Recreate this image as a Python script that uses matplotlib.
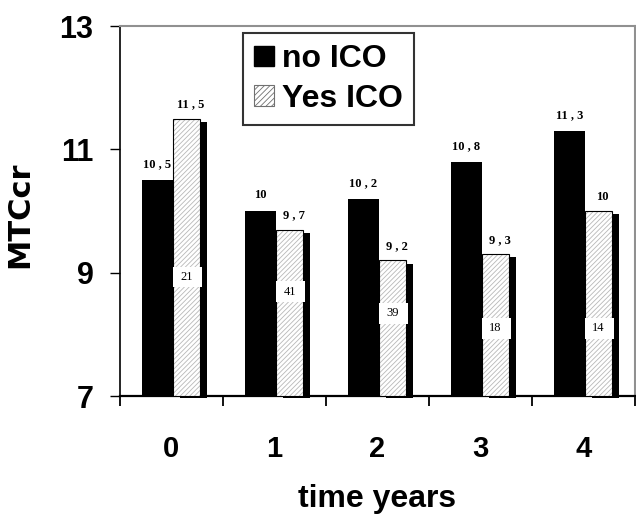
import matplotlib
matplotlib.use("Agg")
import matplotlib.pyplot as plt
from matplotlib.patches import Patch, Rectangle
import numpy as np

years = ["0", "1", "2", "3", "4"]
no_ico = [10.5, 10.0, 10.2, 10.8, 11.3]
yes_ico = [11.5, 9.7, 9.2, 9.3, 10.0]
no_ico_labels = ["10 , 5", "10", "10 , 2", "10 , 8", "11 , 3"]
yes_ico_labels = ["11 , 5", "9 , 7", "9 , 2", "9 , 3", "10"]
yes_counts = ["21", "41", "39", "18", "14"]
count_label_y = [8.93, 8.69, 8.34, 8.10, 8.10]

sans = ["Liberation Sans", "DejaVu Sans"]
serif = ["Liberation Serif", "DejaVu Serif"]

plt.rcParams["hatch.linewidth"] = 0.6

fig = plt.figure(figsize=(6.36, 5.17), dpi=100)
W, H = 636, 517
ax = fig.add_axes([120 / W, (H - 396) / H, 515 / W, 370 / H])

x = np.arange(len(years))
bw_black = 0.306
bw_hatch = 0.26
off_black = -0.289
off_hatch = 0.017
sh_dx = 0.065
sh_dy = 0.054
hatch_gray = "#b8b8b8"

# shadows behind hatched bars
ax.bar(x + off_hatch + sh_dx, np.array(yes_ico) - sh_dy - 6.97, bottom=6.97,
       width=bw_hatch, align="edge", color="black", linewidth=0, zorder=2, clip_on=False)
# black bars
ax.bar(x + off_black, np.array(no_ico) - 7, bottom=7, width=bw_black, align="edge",
       color="black", linewidth=0, zorder=3)
# hatched bars (gray hatch) + black outline
ax.bar(x + off_hatch, np.array(yes_ico) - 7, bottom=7, width=bw_hatch, align="edge",
       facecolor="white", edgecolor=hatch_gray, hatch="///////", linewidth=0, zorder=3)
ax.bar(x + off_hatch, np.array(yes_ico) - 7, bottom=7, width=bw_hatch, align="edge",
       fill=False, edgecolor="black", linewidth=0.8, zorder=4)

for i in range(len(years)):
    ax.annotate(no_ico_labels[i], (x[i] + off_black + bw_black / 2, no_ico[i]),
                xytext=(0, 7), textcoords="offset points", ha="center", va="bottom",
                fontsize=9, fontweight="bold", family=serif, zorder=5)
    ax.annotate(yes_ico_labels[i], (x[i] + off_hatch + bw_hatch / 2 + 0.04, yes_ico[i]),
                xytext=(0, 6), textcoords="offset points", ha="center", va="bottom",
                fontsize=9, fontweight="bold", family=serif, zorder=5)
    ax.add_patch(Rectangle((x[i] + off_hatch - 0.003, count_label_y[i] - 0.17), 0.283, 0.34,
                           facecolor="white", edgecolor="none", zorder=5))
    ax.text(x[i] + off_hatch + bw_hatch / 2, count_label_y[i], yes_counts[i],
            ha="center", va="center", fontsize=9, family=serif, zorder=6)

ax.set_xlim(-0.5, 4.5)
ax.set_ylim(7, 13)
ax.set_yticks([7, 9, 11, 13])
ax.set_yticklabels(["7", "9", "11", "13"])
ax.set_xticks(x)
ax.set_xticklabels(years)
ax.set_xticks(np.arange(-0.5, 5.0, 1.0), minor=True)
ax.tick_params(axis="x", which="major", length=0, pad=28)
ax.tick_params(axis="x", which="minor", length=7, width=1.3, direction="out")
ax.tick_params(axis="y", which="major", length=7, width=1.0, direction="out", pad=12)
for lab in ax.get_xticklabels():
    lab.set_fontsize(21)
    lab.set_fontweight("bold")
    lab.set_family(sans)
for lab in ax.get_yticklabels():
    lab.set_fontsize(22)
    lab.set_fontweight("bold")
    lab.set_family(sans)

ax.spines["left"].set_linewidth(1.2)
ax.spines["bottom"].set_linewidth(1.6)
ax.spines["top"].set_color("#909090")
ax.spines["right"].set_color("#909090")
ax.spines["top"].set_linewidth(1.5)
ax.spines["right"].set_linewidth(1.5)

ax.set_ylabel("MTCcr", fontsize=22, fontweight="bold", family=["DejaVu Sans"])
ax.yaxis.set_label_coords(-0.167, 0.49)
ax.set_xlabel("time years", fontsize=23, fontweight="bold", family=sans)
ax.xaxis.set_label_coords(0.5, -0.238)

handles = [Patch(facecolor="black", edgecolor="black"),
           Patch(facecolor="white", edgecolor="#707070", hatch="//////", linewidth=0.8)]
leg = ax.legend(handles, ["no ICO", "Yes ICO"], loc="upper left",
                bbox_to_anchor=(0.239, 0.981), frameon=True, fancybox=False,
                prop=dict(family=sans, weight="bold", size=23),
                handlelength=0.63, handleheight=0.63, handletextpad=0.25,
                labelspacing=0.3, borderpad=0.35, borderaxespad=0)
leg.get_frame().set_edgecolor("black")
leg.get_frame().set_linewidth(1.5)
leg.set_zorder(10)

fig.savefig("out.png", dpi=100)
